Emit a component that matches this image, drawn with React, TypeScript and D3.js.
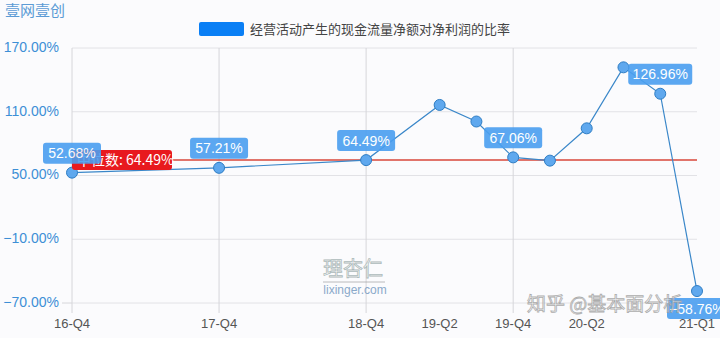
import React from "react";
import * as d3 from "d3";

const periods = ["16-Q4", "17-Q4", "18-Q4", "19-Q2", "19-Q3", "19-Q4", "20-Q1", "20-Q2", "20-Q3", "20-Q4", "21-Q1"];
const ratios = [52.68, 57.21, 64.49, 116.4, 100.8, 67.06, 64.0, 94.4, 151.8, 126.96, -58.76];
const labeledPeriods = ["16-Q4", "17-Q4", "18-Q4", "19-Q4", "20-Q4", "21-Q1"];
const xTickLabels = ["16-Q4", "17-Q4", "18-Q4", "19-Q2", "19-Q4", "20-Q2", "21-Q1"];
const xGridLabels = ["16-Q4", "17-Q4", "18-Q4", "19-Q4"];
const yTicks = [-70, -10, 50, 110, 170];
const medianValue = 64.49;
const title = "壹网壹创";
const seriesName = "经营活动产生的现金流量净额对净利润的比率";

const W = 720;
const H = 338;
const FONT = "'Liberation Sans', Arial, 'Noto Sans CJK SC', sans-serif";
const CJK = "'Noto Sans CJK SC', 'Liberation Sans', sans-serif";

const qIndex = (p: string) => {
  const [y, q] = p.split("-Q");
  return +y * 4 + (+q - 1);
};

export default function App() {
  const x = d3.scaleLinear().domain([qIndex("16-Q4"), qIndex("21-Q1")]).range([72, 697]);
  const y = d3.scaleLinear().domain([-70, 170]).range([303, 48]);
  const fmt = (v: number) => d3.format(".2f")(v) + "%";
  const pts = periods.map((p, i) => ({ p, v: ratios[i], cx: x(qIndex(p)), cy: y(ratios[i]) }));
  const line = d3.line<any>().x((d) => d.cx).y((d) => d.cy);
  const [x0, x1] = x.range();
  const yMed = y(medianValue);

  return (
    <svg width={W} height={H} style={{ position: "absolute", left: 0, top: 0, background: "#fbfbfd" }}>
      <rect width={W} height={H} fill="#fbfbfd" />
      <text x={5} y={16} fontSize={15} fill="#5b9bd5" fontFamily={CJK}>{title}</text>
      <rect x={199} y={22} width={45} height={14} fill="#0a7ff5" rx={2} />
      <text x={250} y={34} fontSize={13} fill="#444" fontFamily={CJK}>{seriesName}</text>

      {yTicks.map((t) => (
        <g key={t}>
          <line x1={x0} x2={x1} y1={y(t)} y2={y(t)} stroke="#e2e2e6" strokeWidth={1} />
          <text x={59} y={y(t) - 1} dy="0.35em" textAnchor="end" fontSize={14} fill="#3d8fd6" fontFamily={FONT}>{fmt(t)}</text>
        </g>
      ))}
      <line x1={62} x2={x0} y1={y(-70)} y2={y(-70)} stroke="#d6d6da" />
      {xGridLabels.map((p) => (
        <line key={p} x1={x(qIndex(p))} x2={x(qIndex(p))} y1={y(170)} y2={313} stroke="#d6d6da" strokeWidth={1} />
      ))}
      {xTickLabels.map((p) => (
        <text key={p} x={x(qIndex(p))} y={328} textAnchor="middle" fontSize={13} fill="#555" fontFamily={FONT}>{p}</text>
      ))}

      <line x1={x0} x2={x1} y1={yMed} y2={yMed} stroke="#d9473a" strokeWidth={1.5} />

      <path d={line(pts) || ""} fill="none" stroke="#3a87c9" strokeWidth={1.2} />
      {pts.map((d) => (
        <circle key={d.p} cx={d.cx} cy={d.cy} r={5.5} fill="#5fa8ee" stroke="#2e7dc4" strokeWidth={1} />
      ))}

      <rect x={x0} y={yMed - 10} width={100} height={20} rx={3} fill="#e8191e" />
      <text x={x0 + 5} y={yMed} dy="0.36em" fontSize={14} fill="#fff" fontFamily={CJK}>中位数: {fmt(medianValue)}</text>

      {pts.filter((d) => labeledPeriods.includes(d.p)).map((d) => {
        const w = d.v >= 100 ? 64 : d.v < 0 ? 60 : 58;
        const h = 21;
        const by = d.v >= 0 ? d.cy - 9 - h : d.cy + 7;
        return (
          <g key={"l" + d.p} opacity={0.9}>
            <rect x={d.cx - w / 2} y={by} width={w} height={h} rx={3} fill="#4a9ff0" />
            <text x={d.cx} y={by + h / 2} dy="0.36em" textAnchor="middle" fontSize={14} fill="#fff" fontFamily={FONT}>{fmt(d.v)}</text>
          </g>
        );
      })}

      <g opacity={0.8}>
        <text x={353} y={276} textAnchor="middle" fontSize={20} fill="#fff" stroke="#9aa" strokeWidth={0.8} fontFamily={CJK}>理杏仁</text>
        <line x1={323} x2={385} y1={282} y2={282} stroke="#999" strokeWidth={0.8} />
        <text x={355} y={294} textAnchor="middle" fontSize={12} fill="#6f95bd" fontFamily={FONT}>lixinger.com</text>
        <text x={527} y={311} fontSize={19} fill="#fff" stroke="#999" strokeWidth={0.8} fontFamily={CJK}>知乎 @基本面分析</text>
      </g>
    </svg>
  );
}
